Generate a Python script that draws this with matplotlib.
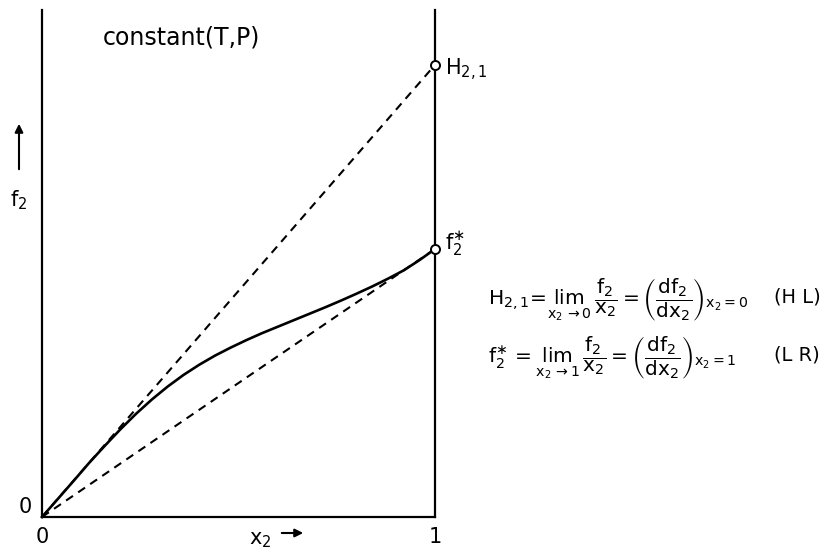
import matplotlib
matplotlib.use("Agg")
import matplotlib.pyplot as plt
import matplotlib.patches as mpatches

plt.rcParams['font.family'] = ['DejaVu Sans']
plt.rcParams['mathtext.fontset'] = 'dejavusans'
plt.rcParams['mathtext.default'] = 'regular'

# data (f2 in units of f2*)
x_curve = [0.0, 0.04, 0.08, 0.12, 0.16, 0.20, 0.24, 0.28, 0.32, 0.36, 0.40, 0.44, 0.48,
           0.52, 0.56, 0.60, 0.64, 0.68, 0.72, 0.76, 0.80, 0.84, 0.88, 0.92, 0.96, 1.0]
f_curve = [0.0, 0.067, 0.134, 0.202, 0.266, 0.328, 0.386, 0.439, 0.487, 0.530, 0.568, 0.602, 0.632,
           0.660, 0.686, 0.710, 0.734, 0.758, 0.782, 0.807, 0.833, 0.860, 0.889, 0.920, 0.958, 1.0]
H21 = 1.687
f_star = 1.0
x_ticks = [0, 1]
x_tick_labels = ["0", "1"]
y_ticks = [0]
y_tick_labels = ["0"]

W, Hh = 833, 551
fig = plt.figure(figsize=(W / 100, Hh / 100), dpi=100)
ax = fig.add_axes([42 / W, 1 - 517 / Hh, (435 - 42) / W, (517 - 10) / Hh])
ax.set_xlim(0, 1)
ax.set_ylim(0, 507 / 268)
for s in ['left', 'right', 'bottom']:
    ax.spines[s].set_linewidth(1.6)
ax.spines['top'].set_visible(False)
ax.set_xticks(x_ticks)
ax.set_xticklabels(x_tick_labels, fontsize=15)
ax.set_yticks(y_ticks)
ax.set_yticklabels(y_tick_labels, fontsize=15, va='bottom')
ax.tick_params(axis='x', length=0, pad=7)
ax.tick_params(axis='y', length=0, pad=7)

ax.plot([0, 1], [0, H21], ls=(0, (4, 3)), color='black', lw=1.5, clip_on=False)
ax.plot([0, 1], [0, f_star], ls=(0, (4, 3)), color='black', lw=1.5, clip_on=False)
ax.plot(x_curve, f_curve, color='black', lw=1.9, clip_on=False)
ax.plot([1, 1], [H21, f_star], ls='none', marker='o', ms=6.5, mfc='white', mec='black', mew=1.4,
        clip_on=False, zorder=5)

ax.text(1.025, H21 - 0.02, r'$H_{2,1}$', fontsize=15, va='center', ha='left', clip_on=False)
ax.text(1.025, f_star + 0.02, r'$f_2^{\ast}$', fontsize=15, va='center', ha='left', clip_on=False)
ax.text(0.155, 1.79, 'constant(T,P)', fontsize=17, va='center', ha='left')

def fx(px):
    return px / W

def fy(py):
    return 1 - py / Hh

# f2 label with arrow
fig.text(fx(19), fy(200), r'$f_2$', fontsize=15, ha='center', va='center')
fig.add_artist(mpatches.FancyArrowPatch((fx(19), fy(172)), (fx(19), fy(121)),
               transform=fig.transFigure, arrowstyle='-|>', mutation_scale=12, lw=1.5, color='black'))
# x2 label with arrow
fig.text(fx(260), fy(540), r'$x_2$', fontsize=15, ha='center', va='center')
fig.add_artist(mpatches.FancyArrowPatch((fx(279), fy(533)), (fx(306), fy(533)),
               transform=fig.transFigure, arrowstyle='-|>', mutation_scale=12, lw=1.5, color='black'))

eq1 = r'$H_{2,1}\!=\!\lim_{x_2\rightarrow 0}\,\dfrac{f_2}{x_2}=\left(\dfrac{df_2}{dx_2}\right)_{x_2=0}$'
eq2 = r'$f_2^{\ast}\,=\lim_{x_2\rightarrow 1}\,\dfrac{f_2}{x_2}=\left(\dfrac{df_2}{dx_2}\right)_{x_2=1}$'
fig.text(fx(488), fy(300), eq1, fontsize=14.5, ha='left', va='center')
fig.text(fx(488), fy(358), eq2, fontsize=14.5, ha='left', va='center')
fig.text(fx(774), fy(297), '(H L)', fontsize=14, ha='left', va='center')
fig.text(fx(774), fy(355), '(L R)', fontsize=14, ha='left', va='center')

fig.savefig('out.png', dpi=100)
